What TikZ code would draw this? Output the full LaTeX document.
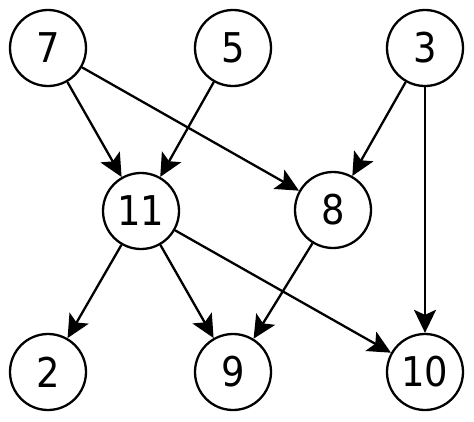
\documentclass[tikz,border=0pt]{standalone}
\usepackage{fontspec}
\setmainfont{DejaVu Sans Condensed}
\usetikzlibrary{arrows.meta}
\begin{document}
\begin{tikzpicture}[x=1pt,y=-1pt,
  vert/.style={circle,draw,line width=2.3pt,minimum size=76pt,inner sep=0pt,font=\fontsize{41}{41}\selectfont},
  edge/.style={line width=2.3pt,-{Stealth[length=23pt,width=22pt,inset=5pt]}}]
\useasboundingbox (0,0) rectangle (474,421);
\node[vert] (n7) at (48,48) {7};
\node[vert] (n5) at (233,48) {5};
\node[vert] (n3) at (425,48) {3};
\node[vert] (n11) at (141,211) {11};
\node[vert] (n8) at (333,210) {8};
\node[vert] (n2) at (48,372) {2};
\node[vert] (n9) at (233,372) {9};
\node[vert] (n10) at (425,372) {10};
\draw[edge] (n7) -- (n11);
\draw[edge] (n7) -- (n8);
\draw[edge] (n5) -- (n11);
\draw[edge] (n3) -- (n8);
\draw[edge] (n3) -- (n10);
\draw[edge] (n11) -- (n2);
\draw[edge] (n11) -- (n9);
\draw[edge] (n11) -- (n10);
\draw[edge] (n8) -- (n9);
\end{tikzpicture}
\end{document}
